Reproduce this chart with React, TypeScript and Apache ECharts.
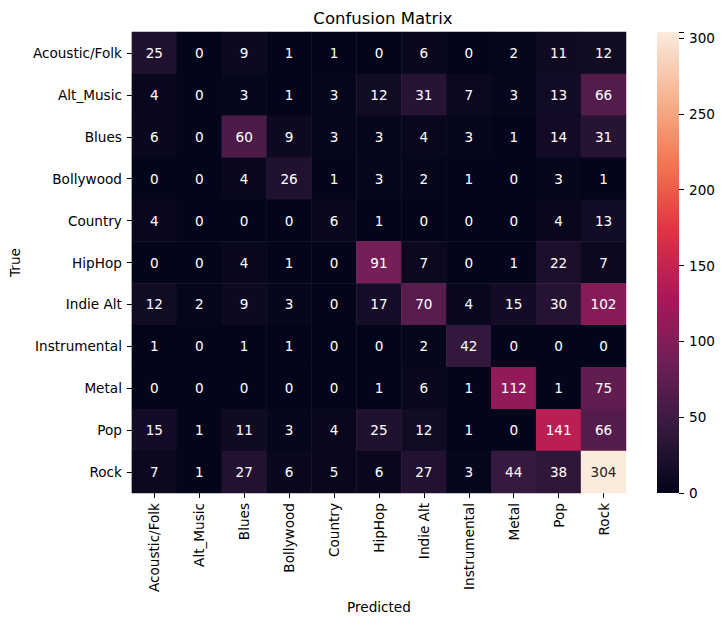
import { useEffect, useRef } from "react";
import * as echarts from "echarts";

const genres = [
  "Acoustic/Folk",
  "Alt_Music",
  "Blues",
  "Bollywood",
  "Country",
  "HipHop",
  "Indie Alt",
  "Instrumental",
  "Metal",
  "Pop",
  "Rock",
];

// rows = true label, columns = predicted label
const matrix = [
  [25, 0, 9, 1, 1, 0, 6, 0, 2, 11, 12],
  [4, 0, 3, 1, 3, 12, 31, 7, 3, 13, 66],
  [6, 0, 60, 9, 3, 3, 4, 3, 1, 14, 31],
  [0, 0, 4, 26, 1, 3, 2, 1, 0, 3, 1],
  [4, 0, 0, 0, 6, 1, 0, 0, 0, 4, 13],
  [0, 0, 4, 1, 0, 91, 7, 0, 1, 22, 7],
  [12, 2, 9, 3, 0, 17, 70, 4, 15, 30, 102],
  [1, 0, 1, 1, 0, 0, 2, 42, 0, 0, 0],
  [0, 0, 0, 0, 0, 1, 6, 1, 112, 1, 75],
  [15, 1, 11, 3, 4, 25, 12, 1, 0, 141, 66],
  [7, 1, 27, 6, 5, 6, 27, 3, 44, 38, 304],
];

const colorbarTicks = [0, 50, 100, 150, 200, 250, 300];

// seaborn "rocket", sampled evenly
const rocket = [
  "#03051a",
  "#35193e",
  "#701f57",
  "#ad1759",
  "#e13342",
  "#f37651",
  "#f6b48f",
  "#faebdd",
];

const FONT = "DejaVu Sans";
const FS = 13.6;

export default function App() {
  const chartRef = useRef<HTMLDivElement>(null);

  useEffect(() => {
    if (!chartRef.current) return;
    const chart = echarts.init(chartRef.current, null, { renderer: "svg" });

    const vmax = Math.max(...matrix.flat());
    const cells = matrix.flatMap((row, y) =>
      row.map((v, x) => ({
        value: [x, y, v],
        label: { color: v / vmax > 0.75 ? "#262626" : "#ffffff" },
      }))
    );

    const option = {
      animation: false,
      textStyle: { fontFamily: FONT },
      title: {
        text: "Confusion Matrix",
        left: 378,
        top: 5,
        textAlign: "center",
        textStyle: { fontFamily: FONT, fontSize: 16.5, fontWeight: "normal", color: "#000" },
      },
      grid: [
        { left: 130, top: 32, width: 496, height: 461 },
        { left: 657, top: 32, width: 22, height: 461 },
      ],
      xAxis: [
        {
          type: "category",
          gridIndex: 0,
          data: genres,
          name: "Predicted",
          nameLocation: "middle",
          nameGap: 106,
          nameTextStyle: { fontFamily: FONT, fontSize: FS, color: "#000" },
          axisLine: { show: false },
          axisTick: { show: true, alignWithLabel: true, length: 5, lineStyle: { color: "#000" } },
          axisLabel: { rotate: 90, margin: 10, fontFamily: FONT, fontSize: FS, color: "#000", interval: 0 },
          splitLine: { show: false },
        },
        {
          type: "category",
          gridIndex: 1,
          data: ["cb"],
          show: false,
        },
      ],
      yAxis: [
        {
          type: "category",
          gridIndex: 0,
          data: genres,
          inverse: true,
          name: "True",
          nameLocation: "middle",
          nameRotate: 90,
          nameGap: 107,
          nameTextStyle: { fontFamily: FONT, fontSize: FS, color: "#000" },
          axisLine: { show: false },
          axisTick: { show: true, alignWithLabel: true, length: 5, lineStyle: { color: "#000" } },
          axisLabel: { margin: 10, fontFamily: FONT, fontSize: FS, color: "#000", interval: 0 },
          splitLine: { show: false },
        },
        {
          type: "value",
          gridIndex: 1,
          position: "right",
          min: 0,
          max: vmax,
          interval: 50,
          axisLine: { show: false },
          axisTick: { show: true, length: 5, lineStyle: { color: "#000" } },
          axisLabel: {
            margin: 10,
            fontFamily: FONT,
            fontSize: FS,
            color: "#000",
            formatter: (v: number) => (colorbarTicks.includes(v) ? String(v) : ""),
          },
          splitLine: { show: false },
        },
      ],
      visualMap: {
        show: false,
        min: 0,
        max: vmax,
        dimension: 2,
        seriesIndex: 0,
        inRange: { color: rocket },
      },
      series: [
        {
          type: "heatmap",
          xAxisIndex: 0,
          yAxisIndex: 0,
          data: cells,
          label: { show: true, fontFamily: FONT, fontSize: FS },
          itemStyle: { borderWidth: 0 },
          emphasis: { disabled: true },
        },
        {
          type: "bar",
          xAxisIndex: 1,
          yAxisIndex: 1,
          barWidth: "100%",
          data: [vmax],
          silent: true,
          itemStyle: {
            color: new echarts.graphic.LinearGradient(
              0,
              1,
              0,
              0,
              rocket.map((c, i) => ({ offset: i / (rocket.length - 1), color: c }))
            ),
          },
        },
      ],
    };

    chart.setOption(option);
    return () => {
      chart.dispose();
    };
  }, []);

  return (
    <div
      ref={chartRef}
      style={{ position: "fixed", left: 0, top: 0, width: 726, height: 624, background: "#fff" }}
    />
  );
}
